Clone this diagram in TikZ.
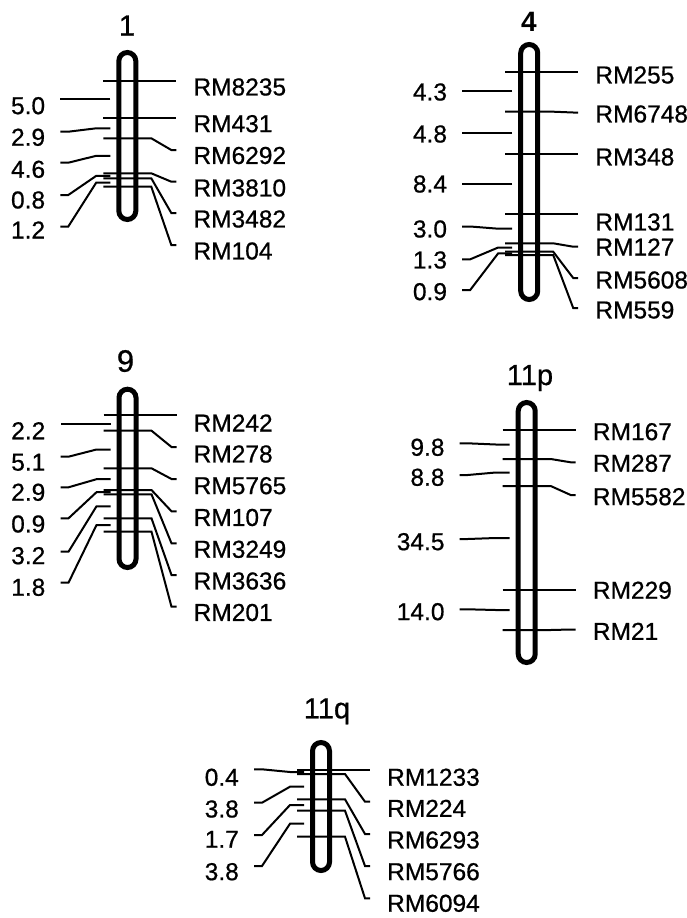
\documentclass[tikz,border=0pt]{standalone}
\usepackage{fontspec}
\setmainfont{Liberation Sans}
\newfontfamily\labfont{Liberation Sans}[FakeBold=0.7]
\tikzset{
  chrom/.style={line width=5pt, rounded corners=8.5pt},
  mline/.style={line width=2pt},
  lab/.style={inner sep=0pt, font=\labfont\fontsize{24.5}{26}\selectfont},
  ttl/.style={inner sep=0pt, anchor=base, font=\labfont\fontsize{29}{31}\selectfont},
}
% chromosome: name, cx, top, bottom
\newcommand\chromobar[4]{\draw[chrom] ({#2-8.5},{#3+2.5}) rectangle ({#2+8.5},{#4-2.5});
  \coordinate (#1) at (#2,#3);}
% marker: cx, y, leader end y, label y, text, name
\newcommand\mk[6]{\draw[mline] ({#1-24},#2) -- ({#1+24},#2) -- ({#1+44},#3) -- ({#1+49},#3);
  \node[lab, anchor=west] (#6) at ({#1+66},#4) {#5};}
% interval: cx, y, leader end y, label y, text, name
\newcommand\iv[6]{\draw[mline] ({#1-17},#2) -- ({#1-31},#2) -- ({#1-59},#3) -- ({#1-67},#3);
  \node[lab, anchor=east] (#6) at ({#1-82},#4) {#5};}
\begin{document}
\begin{tikzpicture}[x=1pt, y=-1pt]
\useasboundingbox (0,0) rectangle (687,918);
% ---------------- chromosome 1
\node[ttl] (t1) at (127,35.5) {1};
\chromobar{c1}{127.3}{50}{222}
\mk{127.3}{80.5}{80.5}{87}{RM8235}{m1a}
\mk{127.3}{118.3}{118.3}{123.7}{RM431}{m1b}
\mk{127.3}{138.3}{150}{155.5}{RM6292}{m1c}
\mk{127.3}{173.3}{181.7}{188}{RM3810}{m1d}
\mk{127.3}{178.3}{213}{219}{RM3482}{m1e}
\mk{127.3}{186.7}{245}{251}{RM104}{m1f}
\iv{127.3}{99.3}{99.3}{105.7}{5.0}{d1a}
\iv{127.3}{128.3}{131.7}{137.3}{2.9}{d1b}
\iv{127.3}{155.8}{162.7}{169.3}{4.6}{d1c}
\iv{127.3}{175.8}{195}{200}{0.8}{d1d}
\iv{127.3}{182.5}{226.5}{230}{1.2}{d1e}
% ---------------- chromosome 4
\node[ttl, font=\fontsize{28}{30}\selectfont\bfseries] (t4) at (529,31.7) {4};
\chromobar{c4}{529.2}{42}{302}
\mk{529.2}{71.7}{71.7}{75}{RM255}{m4a}
\mk{529.2}{111.7}{112.5}{114}{RM6748}{m4b}
\mk{529.2}{154.3}{154.3}{157}{RM348}{m4c}
\mk{529.2}{214}{214}{222}{RM131}{m4d}
\mk{529.2}{243.3}{246.7}{247}{RM127}{m4e}
\mk{529.2}{251.7}{278}{280}{RM5608}{m4f}
\mk{529.2}{255}{308}{310}{RM559}{m4g}
\iv{529.2}{91}{91}{92}{4.3}{d4a}
\iv{529.2}{133}{133}{134}{4.8}{d4b}
\iv{529.2}{184}{184}{184}{8.4}{d4c}
\iv{529.2}{228.7}{226.5}{229}{3.0}{d4d}
\iv{529.2}{247.5}{259.3}{260}{1.3}{d4e}
\iv{529.2}{253.3}{290}{291.7}{0.9}{d4f}
% ---------------- chromosome 9
\node[ttl, font=\labfont\fontsize{31}{33}\selectfont] (t9) at (125.5,371.7) {9};
\chromobar{c9}{127.5}{386.7}{570}
\mk{127.5}{415}{415}{423}{RM242}{m9a}
\mk{127.5}{430.7}{447}{454}{RM278}{m9b}
\mk{127.5}{468.3}{479}{485.7}{RM5765}{m9c}
\mk{127.5}{490}{511.3}{517.5}{RM107}{m9d}
\mk{127.5}{494.3}{543.3}{549.3}{RM3249}{m9e}
\mk{127.5}{518.3}{575}{581}{RM3636}{m9f}
\mk{127.5}{531.7}{606.7}{612.5}{RM201}{m9g}
\iv{127.5}{423.5}{423.5}{430.7}{2.2}{d9a}
\iv{127.5}{449.5}{456.7}{462.3}{5.1}{d9b}
\iv{127.5}{479.2}{487.3}{492.3}{2.9}{d9c}
\iv{127.5}{492.2}{518.3}{524}{0.9}{d9d}
\iv{127.5}{506.3}{551.7}{555.7}{3.2}{d9e}
\iv{127.5}{525}{582.7}{587.3}{1.8}{d9f}
% ---------------- chromosome 11p
\node[ttl] (t11p) at (530,385) {11p};
\chromobar{c11p}{526.7}{400}{665}
\mk{526.7}{430}{430}{431.7}{RM167}{mpa}
\mk{526.7}{459}{462.3}{463.3}{RM287}{mpb}
\mk{526.7}{486}{495}{496.7}{RM5582}{mpc}
\mk{526.7}{590}{590}{590.3}{RM229}{mpd}
\mk{526.7}{630}{629.5}{631.3}{RM21}{mpe}
\iv{526.7}{444.5}{443.3}{447.3}{9.8}{dpa}
\iv{526.7}{472.5}{475}{477.3}{8.8}{dpb}
\iv{526.7}{538}{539}{541.7}{34.5}{dpc}
\iv{526.7}{610}{609.3}{611.7}{14.0}{dpd}
% ---------------- chromosome 11q
\node[ttl] (t11q) at (327,718.3) {11q};
\chromobar{c11q}{321}{740}{873}
\mk{321}{770}{770}{777.3}{RM1233}{mqa}
\mk{321}{774}{801.7}{808.3}{RM224}{mqb}
\mk{321}{799.3}{834}{840}{RM6293}{mqc}
\mk{321}{810.7}{866}{871.7}{RM5766}{mqd}
\mk{321}{836.7}{898.3}{903.3}{RM6094}{mqe}
\iv{321}{772}{769.3}{777.3}{0.4}{dqa}
\iv{321}{786.7}{802.7}{809}{3.8}{dqb}
\iv{321}{805}{835}{839.3}{1.7}{dqc}
\iv{321}{823.7}{866}{871.7}{3.8}{dqd}
\end{tikzpicture}
\end{document}
